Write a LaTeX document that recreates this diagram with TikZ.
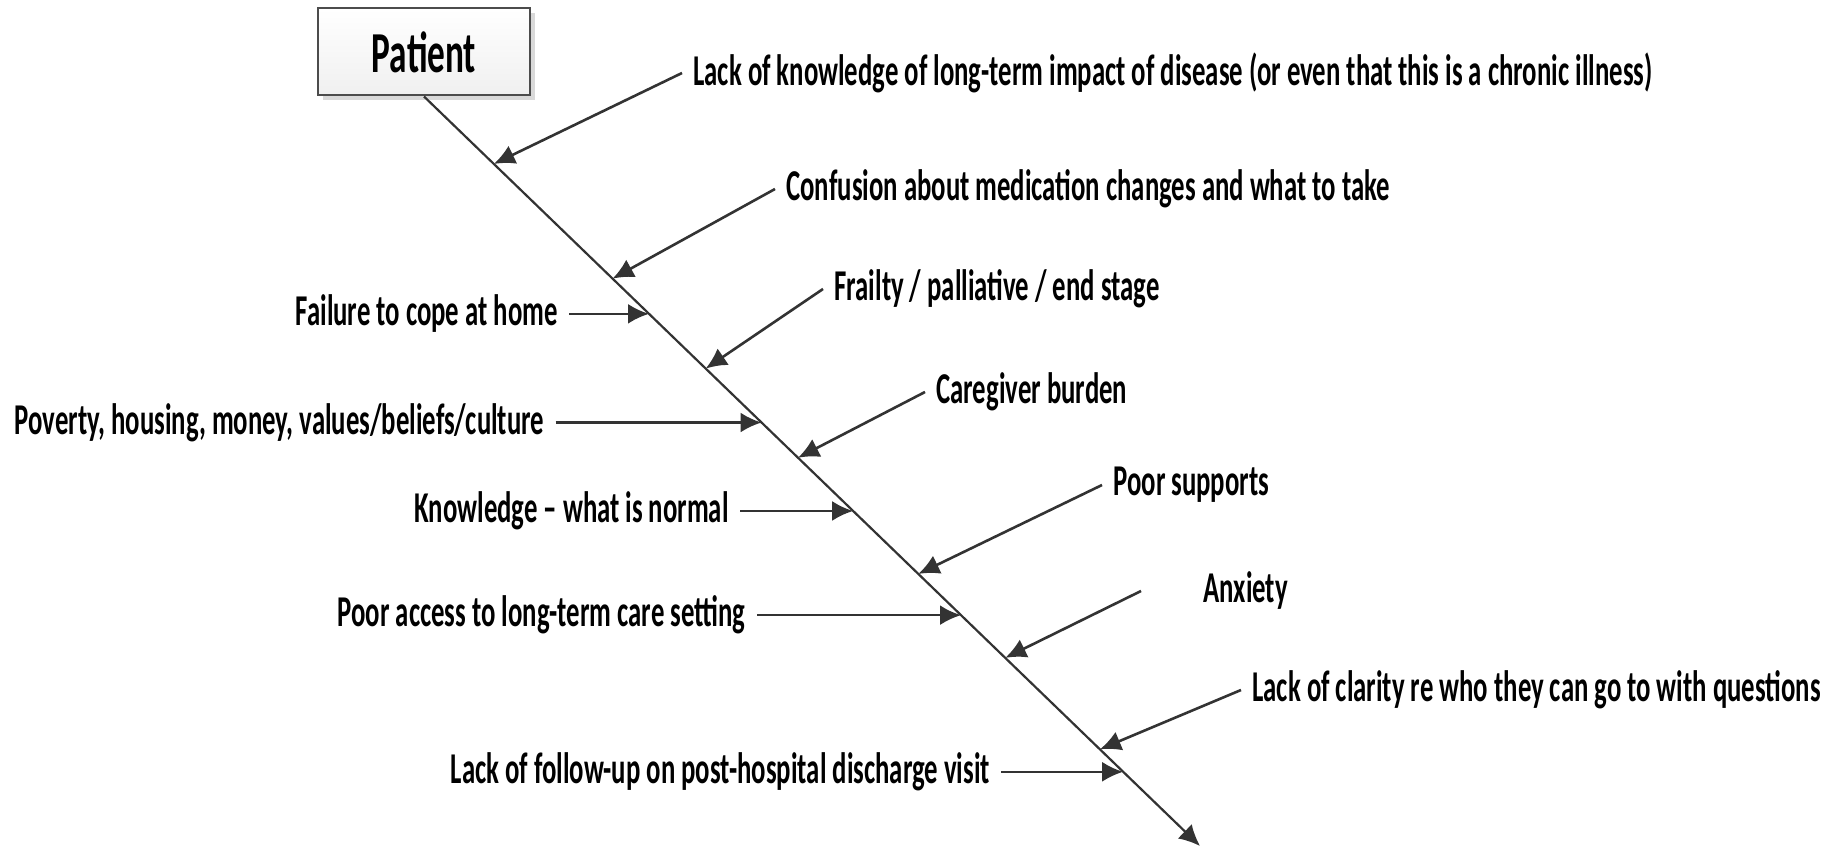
\documentclass[tikz,border=0pt]{standalone}
\usepackage{fontspec}
\setmainfont{Carlito}[FakeStretch=0.608]
\usetikzlibrary{calc,arrows.meta,shadows}

\begin{document}
\begin{tikzpicture}[x=0.5pt,y=-0.5pt]
    \tikzstyle{cause}=[font=\bfseries\fontsize{22}{25}\selectfont,inner ysep=0pt,inner xsep=5.5pt]
    \tikzstyle{bone}=[line width=1.3pt,draw=black!80,-{Latex[length=10.5pt,width=10pt]}]
    \useasboundingbox (0,0) rectangle (1835,850);
    % Head and spine
    \node[draw=black!70,line width=1pt,top color=white,bottom color=gray!12,
        minimum width=106pt,minimum height=43.5pt,
        drop shadow={shadow xshift=2.5pt,shadow yshift=-2.5pt,opacity=0.3},
        font=\bfseries\fontsize{29}{33}\selectfont] (patient) at (424,52) {Patient};
    \coordinate (tail) at (1200,846);
    \draw[bone,line width=1.1pt] (patient.south) -- (tail);
    \path (patient.south) -- (tail)
        coordinate[pos=0.090] (t1) coordinate[pos=0.243] (t2)
        coordinate[pos=0.290] (t3) coordinate[pos=0.363] (t4)
        coordinate[pos=0.435] (t5) coordinate[pos=0.482] (t6)
        coordinate[pos=0.553] (t7) coordinate[pos=0.637] (t8)
        coordinate[pos=0.692] (t9) coordinate[pos=0.749] (t10)
        coordinate[pos=0.871] (t11) coordinate[pos=0.901] (t12);
    % Causes on the right
    \node[cause,anchor=west] (c1) at (682,73) {Lack of knowledge of long-term impact of disease (or even that this is a chronic illness)};
    \node[cause,anchor=west] (c2) at (775,189) {Confusion about medication changes and what to take};
    \node[cause,anchor=west] (c4) at (823,289) {Frailty / palliative / end stage};
    \node[cause,anchor=west] (c6) at (925,392) {Caregiver burden};
    \node[cause,anchor=west] (c8) at (1102,485) {Poor supports};
    \node[cause,anchor=west] (c10) at (1192,591) {Anxiety};
    \coordinate (s10) at (1141,591);
    \node[cause,anchor=west] (c11) at (1241,690) {Lack of clarity re who they can go to with questions};
    \draw[bone] (c1.west) -- (t1);
    \draw[bone] (c2.west) -- (t2);
    \draw[bone] (c4.west) -- (t4);
    \draw[bone] (c6.west) -- (t6);
    \draw[bone] (c8.west) -- (t8);
    \draw[bone] (s10) -- (t10);
    \draw[bone] (c11.west) -- (t11);
    % Causes on the left
    \node[cause,anchor=east] (c3) at ($(t3)+(-80,0)$) {Failure to cope at home};
    \node[cause,anchor=east] (c5) at ($(t5)+(-206,0)$) {Poverty, housing, money, values/beliefs/culture};
    \node[cause,anchor=east] (c7) at ($(t7)+(-113,0)$) {Knowledge -- what is normal};
    \node[cause,anchor=east] (c9) at ($(t9)+(-204,0)$) {Poor access to long-term care setting};
    \node[cause,anchor=east] (c12) at ($(t12)+(-122,0)$) {Lack of follow-up on post-hospital discharge visit};
    \draw[bone] (c3.east) -- (t3);
    \draw[bone] (c5.east) -- (t5);
    \draw[bone] (c7.east) -- (t7);
    \draw[bone] (c9.east) -- (t9);
    \draw[bone] (c12.east) -- (t12);
\end{tikzpicture}
\end{document}
